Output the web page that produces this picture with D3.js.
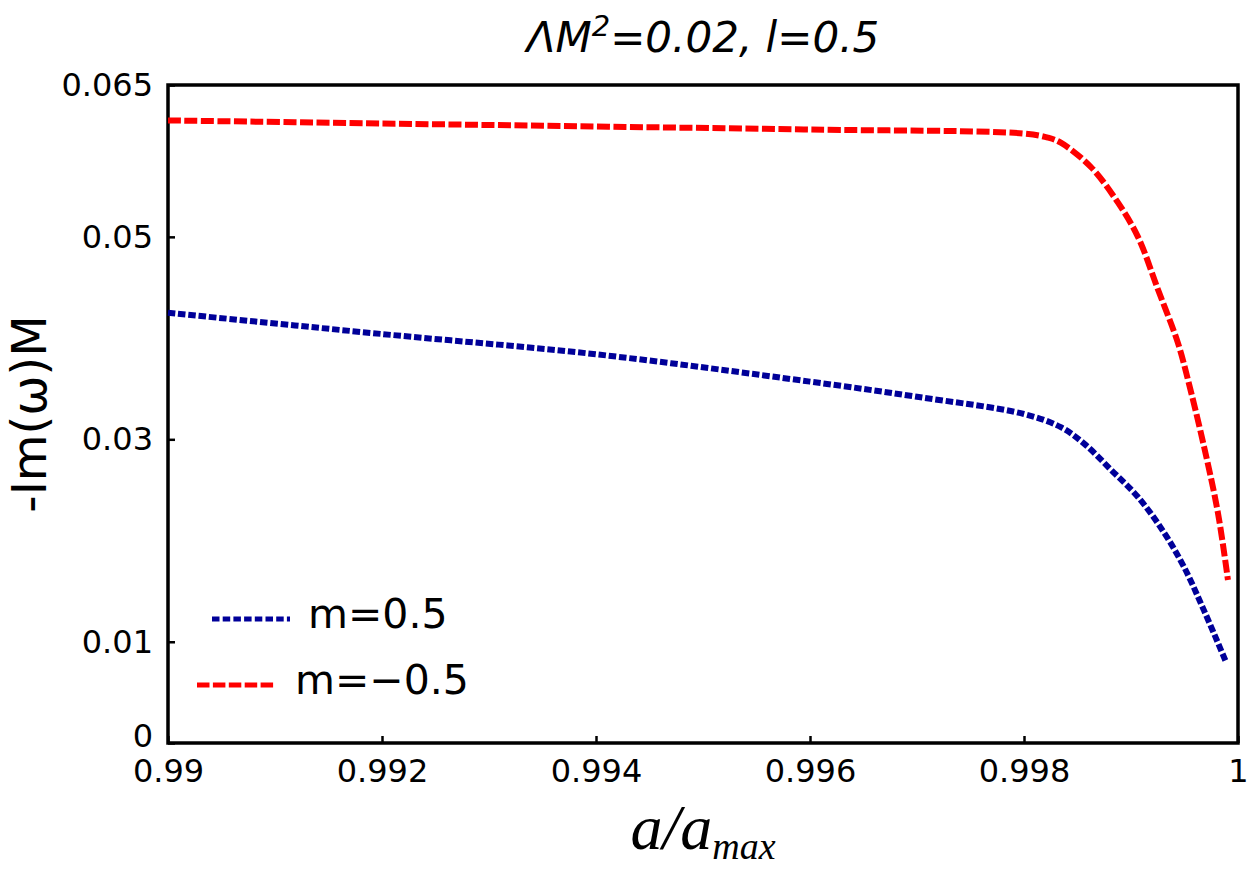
<!DOCTYPE html>
<html>
<head>
<meta charset="utf-8">
<script src="https://cdn.jsdelivr.net/npm/d3@7"></script>
<style>
  html, body { margin: 0; padding: 0; background: #fff; }
  svg { display: block; }
</style>
</head>
<body>
<svg id="chart" width="1250" height="869"></svg>
<script>
// ---- data ----
const xBlue = [0.990, 0.992, 0.994, 0.996, 0.997, 0.998, 0.998344, 0.998559, 0.998812, 0.999065, 0.999308, 0.999495, 0.999682, 0.999888];
const yBlue = [0.0425, 0.0404, 0.0384, 0.0357, 0.0342, 0.0325, 0.0312, 0.0296, 0.0270, 0.0243, 0.0208, 0.0174, 0.0131, 0.0080];
const xRed  = [0.990, 0.992, 0.994, 0.996, 0.998, 0.998223, 0.998344, 0.998625, 0.998877, 0.999065, 0.999252, 0.999439, 0.999532, 0.999682, 0.999813, 0.999906];
const yRed  = [0.0615, 0.0612, 0.0609, 0.0606, 0.0602, 0.0598, 0.0593, 0.0569, 0.0534, 0.0500, 0.0448, 0.0395, 0.0359, 0.0293, 0.0227, 0.0161];
const xTicks = [0.99, 0.992, 0.994, 0.996, 0.998, 1];
const xTickLabels = ["0.99", "0.992", "0.994", "0.996", "0.998", "1"];
const yTicks = [0, 0.01, 0.03, 0.05, 0.065];
const yTickLabels = ["0", "0.01", "0.03", "0.05", "0.065"];
const seriesNames = ["m=0.5", "m=\u22120.5"];

// ---- layout ----
const svg = d3.select("#chart");
const L = 168, R = 1238, T = 85, B = 743;
const x = d3.scaleLinear().domain([0.99, 1]).range([L, R]);
const y = d3.scaleLinear().domain([0, 0.065]).range([B, T]);

const tickFont = "'DejaVu Sans', sans-serif";

// frame
svg.append("rect").attr("x", L).attr("y", T).attr("width", R - L).attr("height", B - T)
  .attr("fill", "none").attr("stroke", "#000").attr("stroke-width", 3.5);

// x axis
const xAxis = d3.axisBottom(x).tickValues(xTicks).tickFormat((d, i) => xTickLabels[i]).tickSizeInner(-7).tickSizeOuter(0).tickPadding(16);
const gx = svg.append("g").attr("transform", `translate(0,${B})`).call(xAxis);
gx.select(".domain").remove();
gx.selectAll(".tick line").attr("stroke", "#000").attr("stroke-width", 2.5);
gx.selectAll(".tick text").attr("font-family", tickFont).attr("font-size", 32).attr("fill", "#000");

// y axis
const yAxis = d3.axisLeft(y).tickValues(yTicks).tickFormat((d, i) => yTickLabels[i]).tickSizeInner(-7).tickSizeOuter(0).tickPadding(15);
const gy = svg.append("g").attr("transform", `translate(${L},0)`).call(yAxis);
gy.select(".domain").remove();
gy.selectAll(".tick line").attr("stroke", "#000").attr("stroke-width", 2.5);
gy.selectAll(".tick text").attr("font-family", tickFont).attr("font-size", 32).attr("fill", "#000");
gy.selectAll(".tick text").filter(d => d === 0).attr("dy", "0.1em");

// curves
const line = d3.line().x(d => x(d[0])).y(d => y(d[1])).curve(d3.curveCatmullRom.alpha(0.5));
const blueData = xBlue.map((v, i) => [v, yBlue[i]]);
const redData = xRed.map((v, i) => [v, yRed[i]]);

svg.append("path").datum(blueData).attr("d", line).attr("fill", "none")
  .attr("stroke", "#000099").attr("stroke-width", 6).attr("stroke-dasharray", "7.5,2.8");
svg.append("path").datum(redData).attr("d", line).attr("fill", "none")
  .attr("stroke", "#ff0000").attr("stroke-width", 6).attr("stroke-dasharray", "13,3.5");

// legend
const lg = svg.append("g");
lg.append("line").attr("x1", 212).attr("x2", 290).attr("y1", 619).attr("y2", 619)
  .attr("stroke", "#000099").attr("stroke-width", 5).attr("stroke-dasharray", "7.5,3.2");
lg.append("text").attr("x", 308).attr("y", 628).text(seriesNames[0])
  .attr("font-family", tickFont).attr("font-size", 41).attr("fill", "#000");
lg.append("line").attr("x1", 197).attr("x2", 275).attr("y1", 685).attr("y2", 685)
  .attr("stroke", "#ff0000").attr("stroke-width", 5).attr("stroke-dasharray", "12.5,3.4");
lg.append("text").attr("x", 295).attr("y", 694).text(seriesNames[1])
  .attr("font-family", tickFont).attr("font-size", 41).attr("fill", "#000");

// title
const title = svg.append("text").attr("x", (L + R) / 2).attr("y", 52).attr("text-anchor", "middle")
  .attr("font-family", tickFont).attr("font-style", "italic").attr("font-size", 42).attr("fill", "#000");
title.append("tspan").text("\u039BM");
title.append("tspan").attr("font-size", 29).attr("dy", -16).text("2");
title.append("tspan").attr("dy", 16).text("=0.02, l=0.5");

// y label
svg.append("text").attr("transform", `translate(46,${(T + B) / 2}) rotate(-90)`).attr("text-anchor", "middle")
  .attr("font-family", tickFont).attr("font-size", 48).attr("fill", "#000").text("-Im(\u03C9)M");

// x label
const xl = svg.append("text").attr("x", (L + R) / 2).attr("y", 849).attr("text-anchor", "middle")
  .attr("font-family", "'Liberation Serif', serif").attr("font-style", "italic").attr("font-size", 64).attr("fill", "#000");
xl.append("tspan").text("a/a");
xl.append("tspan").attr("font-size", 38).attr("dy", 10).text("max");
</script>
</body>
</html>
